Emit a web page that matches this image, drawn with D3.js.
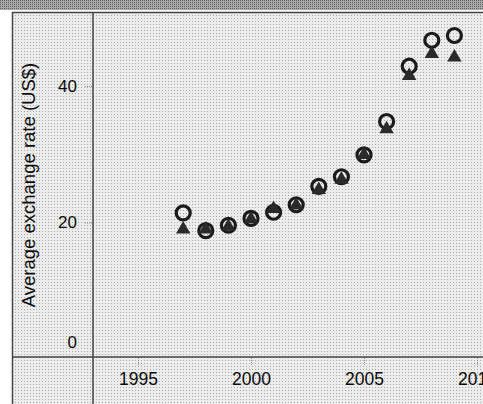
<!DOCTYPE html>
<html lang="en">
<head>
<meta charset="UTF-8">
<title>Average exchange rate</title>
<script src="https://d3js.org/d3.v7.min.js"></script>
<style>
  body { margin: 0; background: #fff; }
  svg { display: block; font-family: "Liberation Sans", Arial, sans-serif; }
  .tick text { fill: #0a0a0a; }
</style>
</head>
<body>
<svg width="483" height="404"></svg>
<script>
// values
var years = [1997, 1998, 1999, 2000, 2001, 2002, 2003, 2004, 2005, 2006, 2007, 2008, 2009];
var circleValues = [21.4, 18.8, 19.6, 20.6, 21.5, 22.6, 25.3, 26.7, 29.9, 34.8, 42.9, 46.7, 47.4];
var triangleValues = [19.0, 19.0, 19.4, 20.5, 22.0, 22.5, 24.8, 26.3, 29.9, 33.7, 41.5, 44.7, 44.2];
var yTicks = [0, 20, 40];
var xTicks = [1995, 2000, 2005, 2010];
var yTitle = "Average exchange rate (US$)";

var svg = d3.select("svg");

// halftone-ish fills
var defs = svg.append("defs");
var p1 = defs.append("pattern").attr("id", "paper")
  .attr("width", 3).attr("height", 3).attr("patternUnits", "userSpaceOnUse");
p1.append("rect").attr("width", 3).attr("height", 3).attr("fill", "#ececec");
p1.append("rect").attr("width", 1).attr("height", 1).attr("fill", "#a8a8a8");
var p2 = defs.append("pattern").attr("id", "band")
  .attr("width", 2).attr("height", 2).attr("patternUnits", "userSpaceOnUse");
p2.append("rect").attr("width", 2).attr("height", 2).attr("fill", "#aaaaaa");
p2.append("rect").attr("width", 1).attr("height", 1).attr("fill", "#5e5e5e");

// top band (cut off title bar) and the boxed area
svg.append("rect").attr("x", 0).attr("y", 0).attr("width", 483).attr("height", 10).attr("fill", "url(#band)");
svg.append("rect").attr("x", 12).attr("y", 12).attr("width", 480).attr("height", 400).attr("fill", "url(#paper)");

var x = d3.scaleLinear().domain([1995, 2010]).range([138, 477]);
var y = d3.scaleLinear().domain([0, 40]).range([359, 86]);

var frame = svg.append("g").attr("stroke", "#444").attr("stroke-width", 1.5);
frame.append("line").attr("x1", 12).attr("x2", 483).attr("y1", 12.5).attr("y2", 12.5);
frame.append("line").attr("x1", 12.5).attr("x2", 12.5).attr("y1", 12).attr("y2", 404);
frame.append("line").attr("x1", 93).attr("x2", 93).attr("y1", 12).attr("y2", 404);
frame.append("line").attr("x1", 12).attr("x2", 483).attr("y1", 357).attr("y2", 357);

// y axis
var gy = svg.append("g").attr("transform", "translate(92,0)")
  .call(d3.axisLeft(y).tickValues(yTicks).tickSize(8).tickPadding(7));
gy.select(".domain").remove();
gy.selectAll(".tick line").attr("stroke", "#8a8a8a").attr("stroke-dasharray", "1,1");
gy.selectAll(".tick text").style("font-size", "17px");
gy.selectAll(".tick").filter(function(d) { return d === 0; })
  .each(function() {
    d3.select(this).select("line").remove();
    d3.select(this).select("text").attr("dy", "-0.68em");
  });

// x axis
var gx = svg.append("g").attr("transform", "translate(0,358)")
  .call(d3.axisBottom(x).tickValues(xTicks).tickFormat(d3.format("d")).tickSize(8).tickPadding(7));
gx.select(".domain").remove();
gx.selectAll(".tick line").attr("stroke", "#8a8a8a").attr("stroke-dasharray", "1,1");
gx.selectAll(".tick text").style("font-size", "17.5px");

// y title
svg.append("text")
  .attr("transform", "translate(35,185) rotate(-90)")
  .attr("text-anchor", "middle")
  .style("font-size", "18.5px")
  .attr("fill", "#0a0a0a")
  .text(yTitle);

// markers
svg.append("g").selectAll("circle")
  .data(years)
  .enter()
  .append("circle")
  .attr("cx", function(d) { return x(d); })
  .attr("cy", function(d, i) { return y(circleValues[i]); })
  .attr("r", 7)
  .attr("fill", "none")
  .attr("stroke", "#1a1a1a")
  .attr("stroke-width", 3.2);

var tri = d3.symbol().type(d3.symbolTriangle).size(90);
svg.append("g").selectAll("path")
  .data(years)
  .enter()
  .append("path")
  .attr("d", tri)
  .attr("transform", function(d, i) { return "translate(" + x(d) + "," + y(triangleValues[i]) + ")"; })
  .attr("fill", "#2a2a2a");
</script>
</body>
</html>
